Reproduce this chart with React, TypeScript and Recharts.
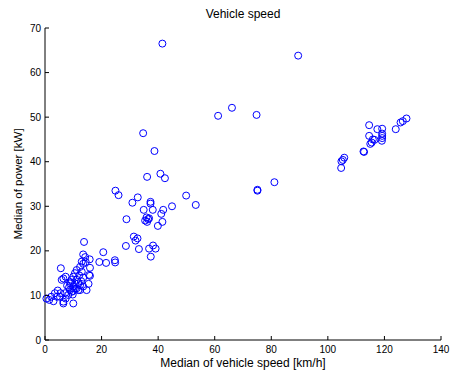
import React from "react";
import { ScatterChart, Scatter, XAxis, YAxis } from "recharts";

// Median of vehicle speed [km/h]
const speed = [
  0.5, 1.5, 3.0, 2.2, 4.2, 4.5, 3.5, 5.5, 5.3, 6.5, 7.3, 6.5, 10.0, 7.1, 8.2, 8.8,
  9.4, 10.0, 10.6, 11.2, 12.4, 11.8, 12.4, 13.5, 14.7, 15.4, 8.8, 10.6, 11.8, 10.0,
  9.4, 11.2, 10.0, 10.6, 11.2, 12.4, 13.0, 12.1, 13.5, 12.8, 6.5, 7.3, 5.9, 5.6,
  15.9, 15.9, 15.6, 13.0, 13.5, 14.4, 14.2, 15.8, 13.5, 13.8, 9.0, 8.5, 9.8, 7.8,
  19.2, 21.6, 20.6, 24.7, 24.8, 28.6, 24.9, 26.0, 28.8, 30.9, 32.8, 31.4, 32.7,
  32.0, 33.2, 34.7, 38.7, 36.1, 40.8, 42.4, 37.3, 37.3, 34.9, 38.1, 41.8, 44.9,
  35.9, 36.5, 35.4, 36.1, 36.8, 41.1, 41.5, 39.9, 36.8, 38.2, 39.1, 37.4, 49.9,
  53.3, 41.5, 61.2, 66.1, 74.8, 75.1, 75.1, 81.1, 89.5,
  104.7, 104.8, 105.3, 105.8, 112.6, 112.8, 114.6, 117.5, 119.2, 114.6, 115.9,
  116.5, 115.5, 115.0, 119.2, 119.2, 119.2, 119.1, 124.0, 125.7, 126.5, 127.8,
];

// Median of power [kW]
const power = [
  9.3, 9.0, 8.7, 9.7, 9.7, 11.1, 10.5, 10.5, 9.7, 8.6, 9.3, 8.2, 8.2, 10.5, 10.1, 11.2,
  10.8, 11.0, 11.5, 11.6, 11.2, 11.2, 12.3, 12.0, 11.2, 12.6, 12.7, 12.7, 12.7, 12.0,
  13.5, 13.5, 14.2, 15.0, 15.7, 16.4, 15.3, 14.5, 14.0, 13.2, 13.8, 14.2, 13.5, 16.1,
  16.2, 14.4, 14.6, 17.6, 17.1, 17.5, 18.6, 18.1, 19.2, 22.0, 13.0, 11.8, 10.2, 12.2,
  17.5, 17.3, 19.7, 17.9, 17.4, 21.1, 33.5, 32.5, 27.1, 30.8, 32.0, 23.2, 22.8,
  22.3, 20.4, 46.4, 42.4, 36.6, 37.3, 36.3, 31.0, 30.6, 29.2, 29.2, 29.2, 30.0,
  27.5, 27.1, 26.8, 26.5, 27.3, 28.3, 26.5, 25.6, 20.5, 21.2, 20.5, 18.7, 32.4,
  30.3, 66.5, 50.3, 52.1, 50.5, 33.7, 33.5, 35.4, 63.8,
  38.6, 40.1, 40.4, 40.9, 42.3, 42.2, 48.2, 47.3, 47.4, 45.8, 45.0,
  44.9, 44.3, 44.0, 46.3, 45.8, 45.3, 44.7, 47.3, 48.8, 49.1, 49.7,
];

const xTicks = [0, 20, 40, 60, 80, 100, 120, 140];
const yTicks = [0, 10, 20, 30, 40, 50, 60, 70];

const points = speed.map((s, i) => ({ x: s, y: power[i] }));

const FONT = "'Liberation Sans', Arial, Helvetica, sans-serif";

function XTick(props: any) {
  const { x, y, payload } = props;
  return (
    <g>
      <line x1={x} y1={y} x2={x} y2={y - 4} stroke="#000" strokeWidth={1} />
      <text x={x} y={y + 13} textAnchor="middle" fontSize={10} fontFamily={FONT} fill="#000">
        {payload.value}
      </text>
    </g>
  );
}

function YTick(props: any) {
  const { x, y, payload } = props;
  return (
    <g>
      <line x1={x} y1={y} x2={x + 4} y2={y} stroke="#000" strokeWidth={1} />
      <text x={x - 4} y={y + 3.5} textAnchor="end" fontSize={10} fontFamily={FONT} fill="#000">
        {payload.value}
      </text>
    </g>
  );
}

function Ring(props: any) {
  const { cx, cy } = props;
  return <circle cx={cx} cy={cy} r={3.5} fill="none" stroke="#0000ff" strokeWidth={1} />;
}

const labelStyle: React.CSSProperties = {
  position: "absolute",
  textAlign: "center",
  fontFamily: FONT,
  fontSize: 12,
  lineHeight: "12px",
  color: "#000",
  whiteSpace: "nowrap",
};

export default function App() {
  return (
    <div style={{ width: 451, height: 374, position: "relative", background: "#fff" }}>
      <style>{"body{margin:0}"}</style>
      <ScatterChart width={451} height={374} margin={{ top: 28, right: 10, bottom: 0, left: 0 }}>
        <XAxis
          type="number"
          dataKey="x"
          domain={[0, 140]}
          ticks={xTicks}
          interval={0}
          height={34}
          tickSize={0}
          tickMargin={0}
          tickLine={false}
          axisLine={{ stroke: "#000" }}
          tick={<XTick />}
        />
        <YAxis
          type="number"
          dataKey="y"
          domain={[0, 70]}
          ticks={yTicks}
          interval={0}
          width={45}
          tickSize={0}
          tickMargin={0}
          tickLine={false}
          axisLine={{ stroke: "#000" }}
          tick={<YTick />}
        />
        <Scatter data={points} shape={<Ring />} isAnimationActive={false} />
      </ScatterChart>
      <div style={{ ...labelStyle, top: 8, left: 45, width: 396 }}>Vehicle speed</div>
      <div style={{ ...labelStyle, top: 357, left: 45, width: 396 }}>
        Median of vehicle speed [km/h]
      </div>
      <div
        style={{
          ...labelStyle,
          fontSize: 11.5,
          top: 178,
          left: -82,
          width: 200,
          transform: "rotate(-90deg)",
        }}
      >
        Median of power [kW]
      </div>
    </div>
  );
}
